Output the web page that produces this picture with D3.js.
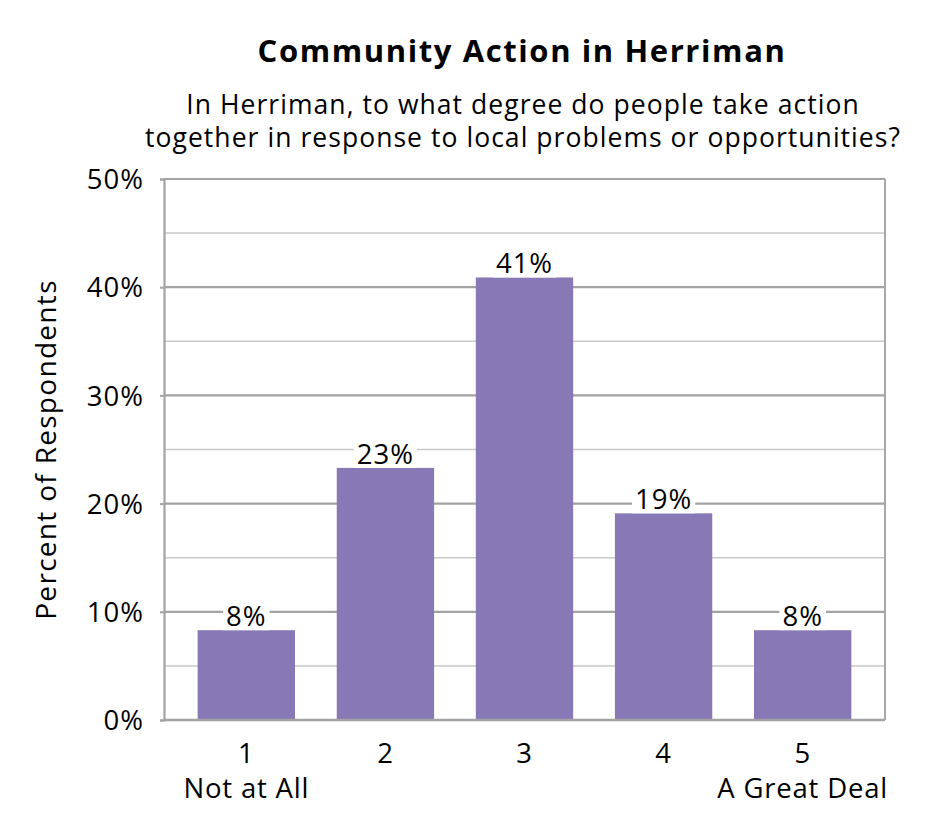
<!DOCTYPE html>
<html>
<head>
<meta charset="utf-8">
<script src="https://cdn.jsdelivr.net/npm/d3@7"></script>
<style>
  body { margin: 0; background: #fff; }
  svg { font-family: "Open Sans", Lato, sans-serif; }
</style>
</head>
<body>
<svg id="chart" width="945" height="840"></svg>
<script>
// ----- data -----
const categories = ["1", "2", "3", "4", "5"];
const subLabels = ["Not at All", "", "", "", "A Great Deal"];
const values = [0.083, 0.233, 0.409, 0.191, 0.083];
const valueLabels = ["8%", "23%", "41%", "19%", "8%"];
const majorTicks = [0, 0.1, 0.2, 0.3, 0.4, 0.5];
const minorTicks = [0.05, 0.15, 0.25, 0.35, 0.45];

const title = "Community Action in Herriman";
const subtitle = [
  "In Herriman, to what degree do people take action",
  "together in response to local problems or opportunities?"
];
const yTitle = "Percent of Respondents";

// ----- layout -----
const svg = d3.select("#chart");
const plot = { left: 164, right: 885, top: 179, bottom: 720 };

const xScale = d3.scaleBand()
  .domain(categories)
  .range([plot.left, plot.right])
  .paddingInner(0.3)
  .paddingOuter(0.242);

const yScale = d3.scaleLinear()
  .domain([0, 0.5])
  .range([plot.bottom, plot.top]);

// titles
svg.append("text")
  .attr("x", 522)
  .attr("y", 62)
  .attr("text-anchor", "middle")
  .style("font-size", "31px")
  .style("font-weight", "bold")
  .style("letter-spacing", "1.6px")
  .text(title);

svg.append("g")
  .selectAll("text")
  .data(subtitle)
  .enter()
  .append("text")
  .attr("x", 523)
  .attr("y", (d, i) => 114 + i * 33)
  .attr("text-anchor", "middle")
  .style("font-size", "26.5px")
  .style("letter-spacing", "1.05px")
  .text((d) => d);

// minor gridlines
svg.append("g")
  .selectAll("line")
  .data(minorTicks)
  .enter()
  .append("line")
  .attr("x1", plot.left)
  .attr("x2", plot.right)
  .attr("y1", (d) => yScale(d))
  .attr("y2", (d) => yScale(d))
  .attr("stroke", "#c9c9c9")
  .attr("stroke-width", 1.5);

// major gridlines
svg.append("g")
  .selectAll("line")
  .data(majorTicks)
  .enter()
  .append("line")
  .attr("x1", plot.left)
  .attr("x2", plot.right)
  .attr("y1", (d) => yScale(d))
  .attr("y2", (d) => yScale(d))
  .attr("stroke", "#a3a3a3")
  .attr("stroke-width", 2.2);

// side borders
svg.append("line")
  .attr("x1", plot.right).attr("x2", plot.right)
  .attr("y1", plot.top).attr("y2", plot.bottom)
  .attr("stroke", "#a8a8a8").attr("stroke-width", 2);

// y axis
const yAxis = svg.append("g")
  .attr("transform", "translate(" + plot.left + ",0)")
  .call(d3.axisLeft(yScale)
    .tickValues(majorTicks)
    .tickFormat(d3.format(".0%"))
    .tickSize(4)
    .tickPadding(16));
yAxis.select(".domain").attr("stroke", "#a3a3a3").attr("stroke-width", 2.2);
yAxis.selectAll(".tick line").attr("stroke", "#a3a3a3").attr("stroke-width", 2);
yAxis.selectAll(".tick text")
  .attr("fill", "#000")
  .style("font-size", "27.5px")
  .style("letter-spacing", "1px")
  .style("font-family", "'Open Sans', sans-serif")
  .attr("dy", "0.35em");

// bars
svg.append("g")
  .selectAll("rect")
  .data(values)
  .enter()
  .append("rect")
  .attr("x", (d, i) => xScale(categories[i]))
  .attr("y", (d) => yScale(d))
  .attr("width", xScale.bandwidth())
  .attr("height", (d) => yScale(0) - yScale(d))
  .attr("fill", "#8679b5");

// x axis baseline
svg.append("line")
  .attr("x1", plot.left).attr("x2", plot.right)
  .attr("y1", yScale(0)).attr("y2", yScale(0))
  .attr("stroke", "#a3a3a3").attr("stroke-width", 2.5);

// value labels with white boxes behind
const labels = svg.append("g")
  .selectAll("g")
  .data(values)
  .enter()
  .append("g");

labels.append("text")
  .attr("x", (d, i) => xScale(categories[i]) + xScale.bandwidth() / 2)
  .attr("y", (d) => yScale(d) - 4)
  .attr("text-anchor", "middle")
  .style("font-size", "27.5px")
  .style("letter-spacing", "1px")
  .text((d, i) => valueLabels[i]);

labels.each(function () {
  const g = d3.select(this);
  const bb = g.select("text").node().getBBox();
  g.insert("rect", "text")
    .attr("x", bb.x - 3)
    .attr("y", bb.y + 5)
    .attr("width", bb.width + 6)
    .attr("height", bb.height - 9)
    .attr("fill", "#fff");
});

// category labels
const xLab = svg.append("g")
  .style("font-size", "27.5px")
  .style("letter-spacing", "0.8px");
xLab.selectAll("text.cat")
  .data(categories)
  .enter()
  .append("text")
  .attr("class", "cat")
  .attr("x", (d) => xScale(d) + xScale.bandwidth() / 2)
  .attr("y", 763)
  .attr("text-anchor", "middle")
  .text((d) => d);

xLab.selectAll("text.sub")
  .data(subLabels)
  .enter()
  .append("text")
  .attr("class", "sub")
  .attr("x", (d, i) => xScale(categories[i]) + xScale.bandwidth() / 2)
  .attr("y", 798)
  .attr("text-anchor", "middle")
  .text((d) => d);

// y title
svg.append("text")
  .attr("text-anchor", "middle")
  .attr("transform", "translate(56," + (plot.top + plot.bottom) / 2 + ")rotate(-90)")
  .style("font-size", "28px")
  .style("letter-spacing", "1.3px")
  .text(yTitle);
</script>
</body>
</html>
